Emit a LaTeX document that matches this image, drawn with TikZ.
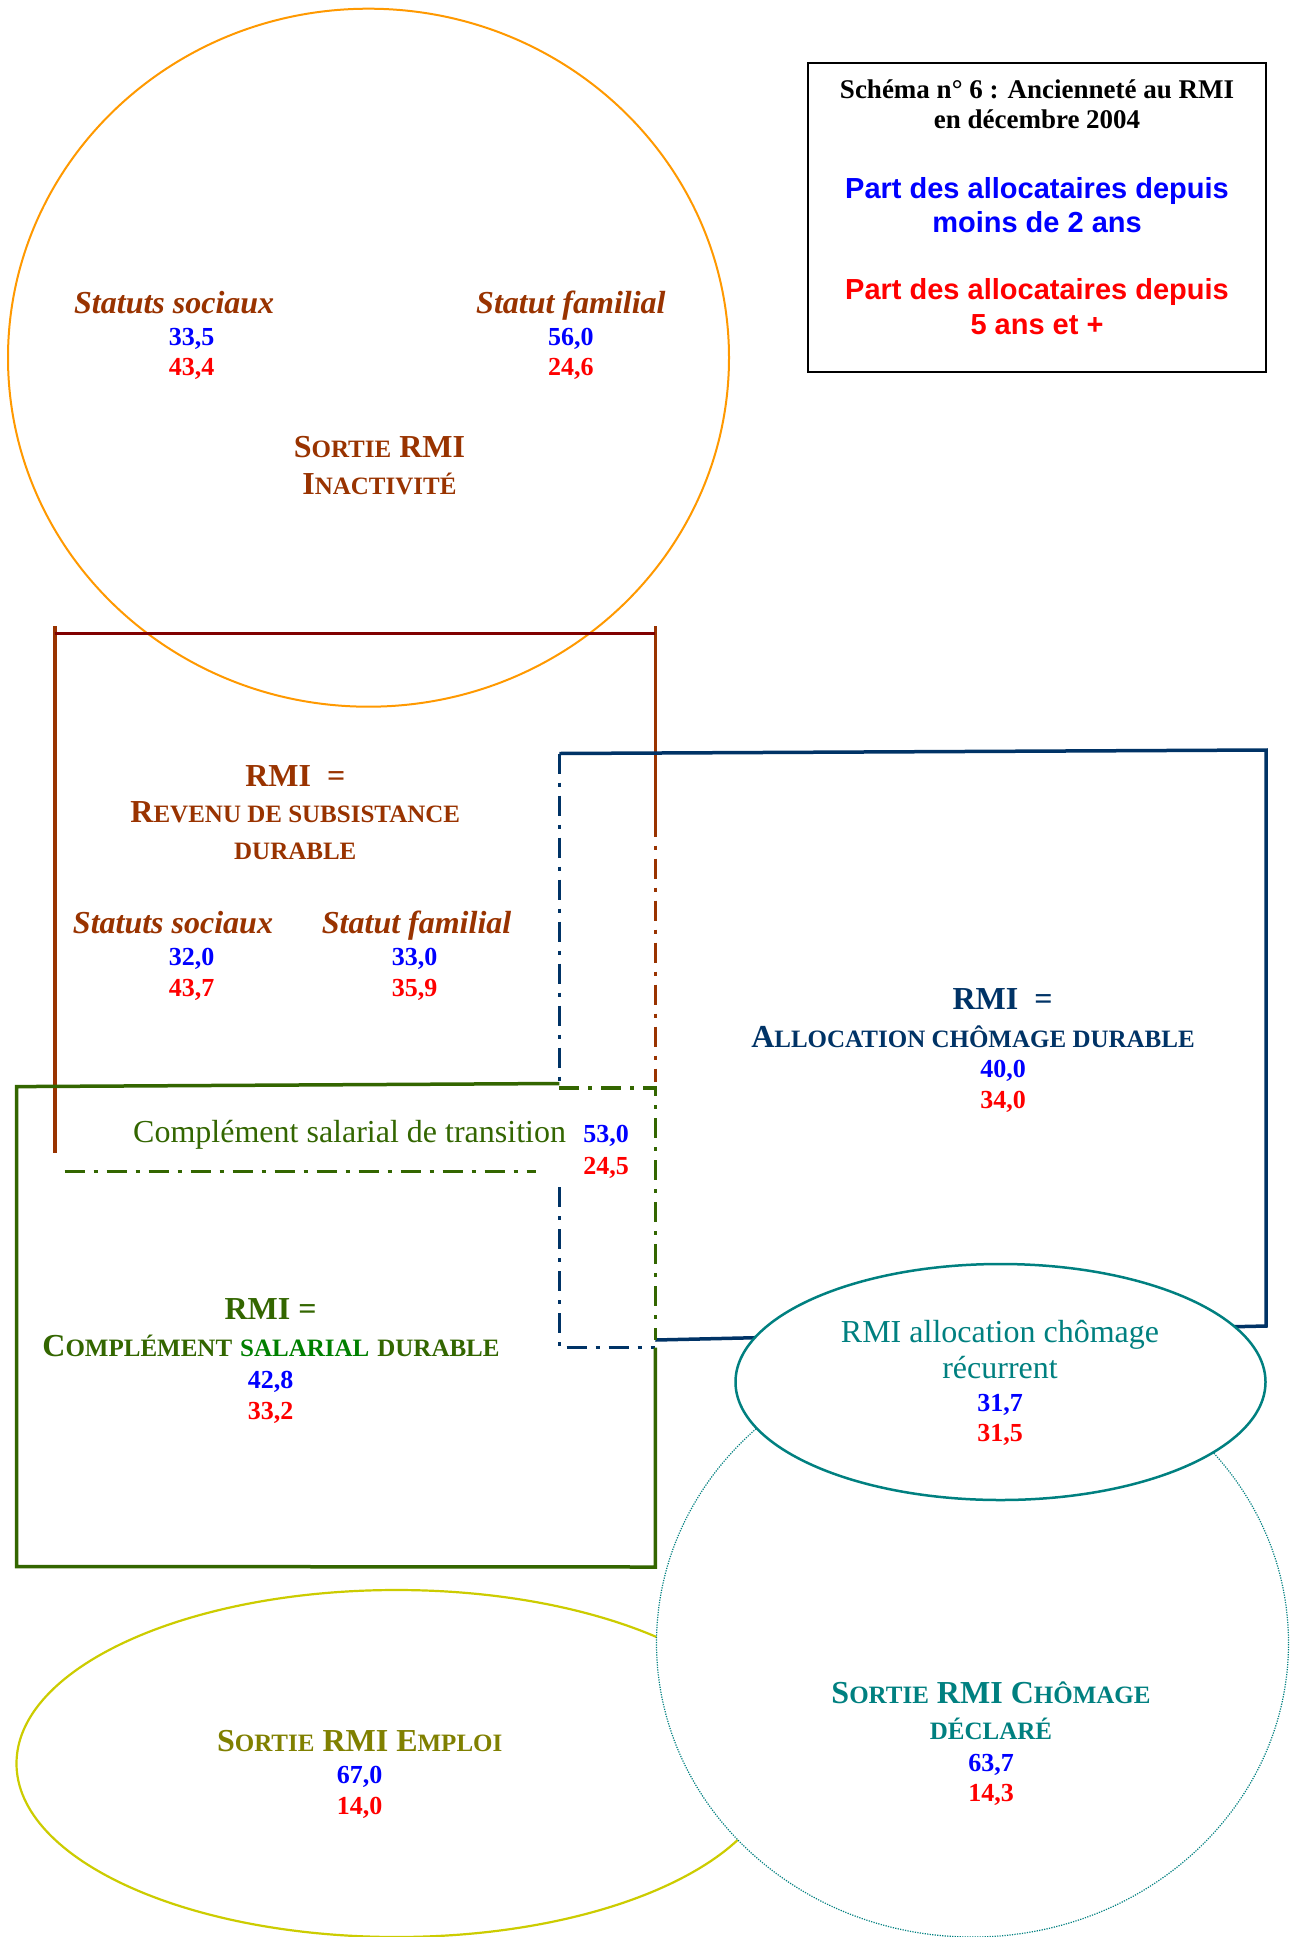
\documentclass[tikz,border=0pt]{standalone}
\usepackage{fontspec}
\setmainfont{Liberation Serif}
\newfontfamily\arialf{Liberation Sans}
\definecolor{brn}{HTML}{993300}
\definecolor{maroonc}{HTML}{800000}
\definecolor{orng}{HTML}{FF9900}
\definecolor{navyc}{HTML}{003366}
\definecolor{dgreen}{HTML}{336600}
\definecolor{mgreen}{HTML}{008000}
\definecolor{tealc}{HTML}{008080}
\definecolor{olivec}{HTML}{808000}
\definecolor{yelc}{HTML}{CCCC00}
\newcommand\smc[1]{{\fontsize{25}{30}\selectfont #1}}
\tikzset{
  basetxt/.style={anchor=base,inner sep=0pt,outer sep=0pt},
  lbl/.style={basetxt,font=\fontsize{32}{38}\selectfont\bfseries},
  ital/.style={basetxt,font=\fontsize{32}{38}\selectfont\bfseries\itshape,text=brn},
  plaintxt/.style={basetxt,font=\fontsize{32}{38}\selectfont},
  num/.style={basetxt,font=\fontsize{26}{30}\selectfont\bfseries},
  blu/.style={num,text=blue},
  rd/.style={num,text=red},
  dashdot/.style={line width=3.3pt,dash pattern=on 20pt off 9pt on 4pt off 9pt},
  thickline/.style={line width=3.5pt},
}
\begin{document}
\begin{tikzpicture}[x=1pt,y=-1pt]
\useasboundingbox (0,0) rectangle (1295,1937);
\fill[white] (0,0) rectangle (1295,1937);

% top orange circle
\draw[orng,line width=2pt] (368.5,357.7) ellipse [x radius=360.5pt, y radius=349pt];

% title box
\draw[black,line width=2.5pt] (808,63) rectangle (1266,372);
\node[basetxt,font=\fontsize{27}{32}\selectfont\bfseries] (t1) at (1037,98.3) {Schéma n° 6 : Ancienneté au RMI};
\node[basetxt,font=\fontsize{27}{32}\selectfont\bfseries] (t2) at (1037,129) {en décembre 2004};
\node[basetxt,font=\arialf\fontsize{29}{34}\selectfont\bfseries,text=blue] (t3) at (1037,198.3) {Part des allocataires depuis};
\node[basetxt,font=\arialf\fontsize{29}{34}\selectfont\bfseries,text=blue] (t4) at (1037,232.7) {moins de 2 ans};
\node[basetxt,font=\arialf\fontsize{29}{34}\selectfont\bfseries,text=red] (t5) at (1037,299.3) {Part des allocataires depuis};
\node[basetxt,font=\arialf\fontsize{29}{34}\selectfont\bfseries,text=red] (t6) at (1037,334.3) {5 ans et +};

% brown bracket
\coordinate (bTL) at (55,626);
\coordinate (bBL) at (55,1153);
\coordinate (bTR) at (655.4,626);
\coordinate (bMR) at (655.4,816.5);
\coordinate (bDR) at (655.4,1082);
\draw[brn,thickline] (bTL) -- (bBL);
\draw[brn,thickline] (bTR) -- (bMR);
\draw[maroonc,thickline] (55,633.7) -- (655.4,633.7);
\draw[brn,dashdot] (bMR) -- (bDR);

% navy box
\coordinate (nTL) at (559.4,753.5);
\coordinate (nTR) at (1266,750);
\coordinate (nBR) at (1266,1326);
\coordinate (nBL) at (655.4,1340);
\draw[navyc,thickline] (nTL) -- (nTR) -- (nBR) -- (nBL);
\draw[navyc,dashdot] (nTL) -- (559.4,1083);
\draw[navyc,dashdot] (559.4,1187) -- (559.4,1347.7) -- (655.4,1347.7);

% green box
\coordinate (gTL) at (16.5,1086.6);
\coordinate (gTM) at (559.4,1083.5);
\coordinate (gBL) at (16.5,1566.5);
\coordinate (gBR) at (655.4,1567);
\coordinate (gMR) at (655.4,1347.7);
\draw[dgreen,thickline] (gTM) -- (gTL) -- (gBL) -- (gBR) -- (gMR);
\draw[dgreen,dashdot] (559.4,1088) -- (655.4,1088) -- (655.4,1340);
\draw[dgreen,dashdot] (64.7,1171.6) -- (535.7,1171.6);

% yellow ellipse, dotted circle, teal ellipse
\draw[yelc,line width=2.2pt] (396.5,1763.5) ellipse [x radius=380pt, y radius=173.5pt];
\filldraw[fill=white,draw=tealc,line width=1.2pt,dash pattern=on 1.2pt off 1.3pt] (972.5,1643) ellipse [x radius=316pt, y radius=294pt];
\filldraw[fill=white,draw=tealc,line width=2.5pt] (1000.5,1382) ellipse [x radius=265pt, y radius=118pt];

% texts in orange circle
\node[ital] (c1l) at (174.2,313.6) {Statuts sociaux};
\node[blu] (c1b) at (191.5,345) {33,5};
\node[rd] (c1r) at (191.5,375.8) {43,4};
\node[ital] (c2l) at (570.9,313.6) {Statut familial};
\node[blu] (c2b) at (570.9,345) {56,0};
\node[rd] (c2r) at (570.9,375.8) {24,6};
\node[lbl,text=brn] (c3) at (379.4,457.5) {S\smc{ORTIE} RMI};
\node[lbl,text=brn] (c4) at (379.4,494.5) {I\smc{NACTIVITÉ}};

% texts in brown bracket
\node[lbl,text=brn] (r1) at (295.3,786) {RMI\ \ =};
\node[lbl,text=brn] (r2) at (295.3,822.5) {R\smc{EVENU DE SUBSISTANCE}};
\node[lbl,text=brn] (r3) at (295.3,859) {\smc{DURABLE}};
\node[ital] (r4l) at (173,933.5) {Statuts sociaux};
\node[blu] (r4b) at (191.5,965.5) {32,0};
\node[rd] (r4r) at (191.5,996.3) {43,7};
\node[ital] (r5l) at (416.6,933.5) {Statut familial};
\node[blu] (r5b) at (414.5,965.5) {33,0};
\node[rd] (r5r) at (414.5,996.3) {35,9};

% transition text
\node[plaintxt,text=dgreen] (tr1) at (349.6,1142.5) {Complément salarial de transition};
\node[blu] (tr2) at (606,1142.5) {53,0};
\node[rd] (tr3) at (606,1174.5) {24,5};

% navy texts
\node[lbl,text=navyc] (a1) at (1002.5,1009.3) {RMI\ \ =};
\node[lbl,text=navyc] (a2) at (973,1047.3) {A\smc{LLOCATION CHÔMAGE DURABLE}};
\node[blu] (a3) at (1003,1077) {40,0};
\node[rd] (a4) at (1003,1108.3) {34,0};

% green texts
\node[lbl,text=dgreen] (s1) at (270.6,1319.3) {RMI =};
\node[lbl,text=dgreen] (s2) at (271,1356.5) {C\smc{OMPLÉMENT} \textcolor{mgreen}{\smc{SALARIAL}} \smc{DURABLE}};
\node[blu] (s3) at (270.6,1388) {42,8};
\node[rd] (s4) at (270.6,1419.3) {33,2};

% teal ellipse texts
\node[plaintxt,text=tealc] (e1) at (1000,1342.3) {RMI allocation chômage};
\node[plaintxt,text=tealc] (e2) at (1000,1378.3) {récurrent};
\node[blu] (e3) at (1000,1411.7) {31,7};
\node[rd] (e4) at (1000,1441.7) {31,5};

% dotted circle texts
\node[lbl,text=tealc] (d1) at (991,1703.3) {S\smc{ORTIE} RMI C\smc{HÔMAGE}};
\node[lbl,text=tealc] (d2) at (991,1739.3) {\smc{DÉCLARÉ}};
\node[blu] (d3) at (991,1771.7) {63,7};
\node[rd] (d4) at (991,1801.7) {14,3};

% yellow ellipse texts
\node[lbl,text=olivec] (y1) at (359.7,1751) {S\smc{ORTIE} RMI E\smc{MPLOI}};
\node[blu] (y2) at (359.7,1783.3) {67,0};
\node[rd] (y3) at (359.7,1814.3) {14,0};
\end{tikzpicture}
\end{document}
